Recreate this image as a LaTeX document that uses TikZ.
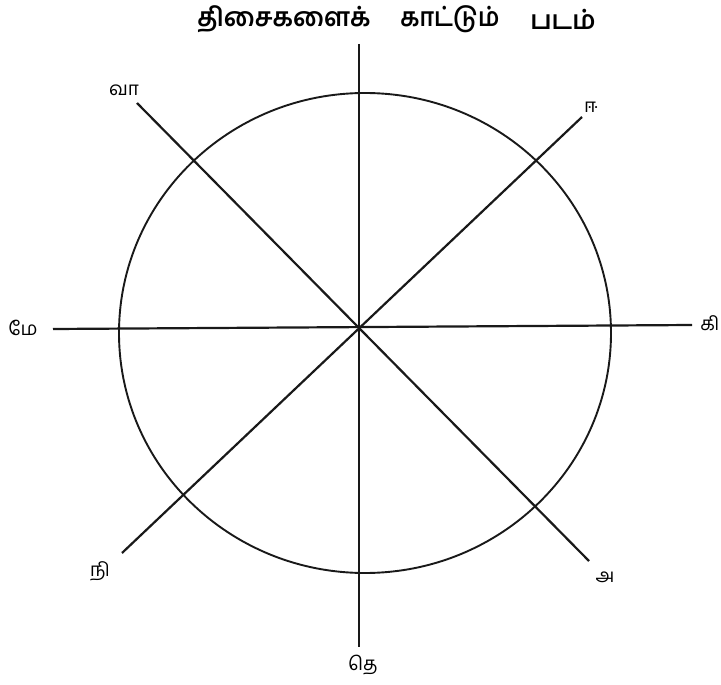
\documentclass[tikz,border=0pt]{standalone}
\usepackage{fontspec}
\newfontfamily\tamil[Script=Tamil]{Hind Madurai}
\begin{document}
\begin{tikzpicture}[x=1pt,y=-1pt,
  axis/.style={line width=2.2pt, black!90},
  rim/.style={line width=1.9pt, black!90},
  lab/.style={font=\tamil\fontsize{19}{22}\selectfont, inner sep=0pt},
  ttl/.style={font=\tamil\bfseries\fontsize{26}{30}\selectfont, inner sep=0pt}]
\useasboundingbox (0,0) rectangle (721,685);
% centre and ends
\coordinate (c) at (359,327);
\coordinate (n) at (359,44);
\coordinate (s) at (359,647);
\coordinate (w) at (53,329);
\coordinate (e) at (692,325);
\coordinate (nw) at (137,103);
\coordinate (se) at (589,561);
\coordinate (ne) at (582,117);
\coordinate (sw) at (122,553);
\coordinate (o) at (365,333);
% circle
\draw[rim] (o) ellipse [x radius=246, y radius=240];
% axes
\draw[axis] (n) -- (s);
\draw[axis] (w) -- (e);
\draw[axis] (nw) -- (se);
\draw[axis] (ne) -- (sw);
% labels
\node[lab] (lva) at (124,90) {வா};
\node[lab] (lii) at (591,107) {ஈ};
\node[lab] (lme) at (23,328) {மே};
\node[lab] (lki) at (710,323) {கி};
\node[lab] (lni) at (100,571) {நி};
\node[lab] (la) at (605,577) {அ};
\node[lab] (lte) at (363,665) {தெ};
% title
\node[ttl, xscale=0.96] (t1) at (284,19) {திசைகளைக்};
\node[ttl, xscale=0.9] (t2) at (450,19) {காட்டும்};
\node[ttl, xscale=0.98] (t3) at (563,19) {படம்};
\end{tikzpicture}
\end{document}
